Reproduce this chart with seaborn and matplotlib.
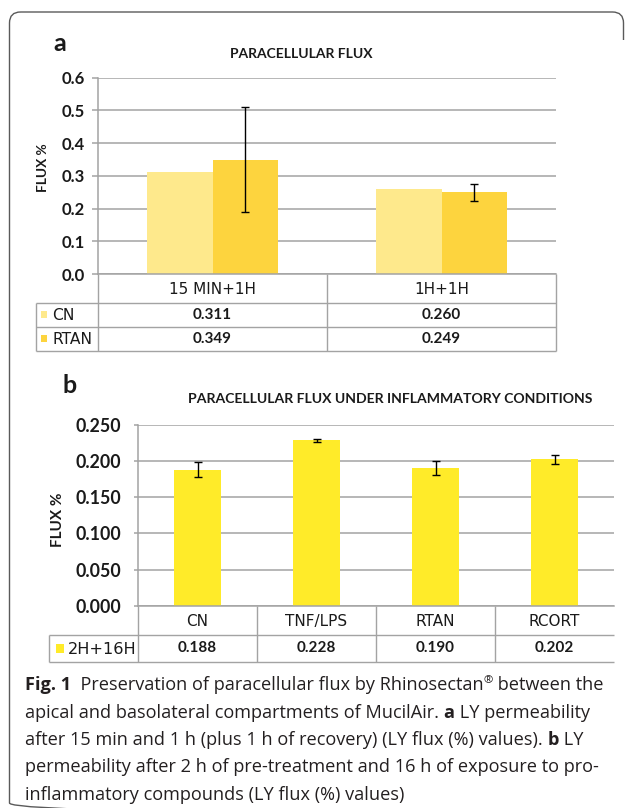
import numpy as np
import pandas as pd
import matplotlib
matplotlib.use("Agg")
import matplotlib.pyplot as plt
import seaborn as sns
from matplotlib.patches import FancyBboxPatch, Rectangle
from matplotlib.path import Path


# panel a - paracellular flux
a_groups = ["15 MIN+1H", "1H+1H"]
a_series = ["CN", "RTAN"]
a_cn = [0.311, 0.260]
a_rtan = [0.349, 0.249]
a_rtan_err = [0.161, 0.025]
a_ticks = [0.0, 0.1, 0.2, 0.3, 0.4, 0.5, 0.6]

# panel b - under inflammatory conditions
b_groups = ["CN", "TNF/LPS", "RTAN", "RCORT"]
b_series = "2H+16H"
b_vals = [0.188, 0.228, 0.190, 0.202]
b_err = [0.011, 0.002, 0.0095, 0.006]
b_ticks = [0.0, 0.05, 0.10, 0.15, 0.20, 0.25]

caption = [
    [("Fig. 1", "bold"), ("  Preservation of paracellular flux by Rhinosectan", "reg"),
     ("®", "sup"), (" between the", "reg")],
    [("apical and basolateral compartments of MucilAir. ", "reg"), ("a", "bold"),
     (" LY permeability", "reg")],
    [("after 15 min and 1 h (plus 1 h of recovery) (LY flux (%) values). ", "reg"),
     ("b", "bold"), (" LY", "reg")],
    [("permeability after 2 h of pre-treatment and 16 h of exposure to pro-", "reg")],
    [("inflammatory compounds (LY flux (%) values)", "reg")],
]

W, H = 629, 808
GRID = "#A3A3A3"
TXT = "#1A1A1A"
c_cn, c_rtan, c_b = "#FEE98C", "#FDD43E", "#FFEB29"


def px(x0, y0, x1, y1):
    return [x0 / W, 1 - y1 / H, (x1 - x0) / W, (y1 - y0) / H]


sns.set_theme(style="white")
plt.rcParams["font.family"] = ["Lato", "DejaVu Sans"]

fig = plt.figure(figsize=(W / 100, H / 100), dpi=100)

# pixel canvas for table, titles, caption
cv = fig.add_axes([0, 0, 1, 1])
cv.set_xlim(0, W)
cv.set_ylim(H, 0)
cv.axis("off")


def hline(y, x0, x1):
    cv.plot([x0, x1], [y, y], color=GRID, lw=1.0, solid_capstyle="butt")


def vline(x, y0, y1):
    cv.plot([x, x], [y0, y1], color=GRID, lw=1.0, solid_capstyle="butt")


def style_axis(ax, ticks, fmt, size, pad, tlen):
    ax.set_yticks(ticks)
    ax.set_yticklabels([fmt.format(t) for t in ticks], fontweight="bold",
                       fontsize=size, color=TXT)
    ax.yaxis.grid(True, color=GRID, lw=1.1)
    ax.set_axisbelow(True)
    for s in ["top", "right"]:
        ax.spines[s].set_visible(False)
    for s in ["left", "bottom"]:
        ax.spines[s].set_color(GRID)
        ax.spines[s].set_linewidth(1.1)
    ax.tick_params(axis="y", length=tlen, width=1.1, color=GRID, pad=pad, left=True)
    ax.tick_params(axis="x", length=0, labelbottom=False)
    ax.set_xlabel("")
    ax.set_ylabel("")


# ---------------- panel a ----------------
a_box = (98, 77.5, 556, 274)
axA = fig.add_axes(px(*a_box))
df_a = pd.DataFrame({
    "group": a_groups * 2,
    "series": [a_series[0]] * 2 + [a_series[1]] * 2,
    "flux": a_cn + a_rtan,
})
sns.barplot(data=df_a, x="group", y="flux", hue="series", palette=[c_cn, c_rtan],
            width=0.57, errorbar=None, saturation=1, legend=False, linewidth=0, ax=axA)
rtan_bars = axA.patches[len(a_groups):2 * len(a_groups)]
axA.errorbar([p.get_x() + p.get_width() / 2 for p in rtan_bars],
             [p.get_height() for p in rtan_bars], yerr=a_rtan_err, fmt="none",
             ecolor="black", elinewidth=1.0, capsize=3, capthick=1.0)
axA.set_xlim(-0.5, len(a_groups) - 0.5)
axA.set_ylim(0, 0.6)
style_axis(axA, a_ticks, "{:.1f}", 12, 5, 4.5)

cv.text(53, 51, "a", fontsize=18, fontweight="bold", va="baseline", color=TXT)
cv.text(301, 54, "PARACELLULAR FLUX", fontsize=10, fontweight="bold",
        ha="center", va="center", color=TXT)
cv.text(43, 168, "FLUX %", rotation=90, fontsize=9.8, fontweight="bold",
        ha="center", va="center", color=TXT)

# table under panel a
x0, y0, x1, y1 = a_box
rows_a = [y1, 302.7, 326.5, 351]
colw = (x1 - x0) / len(a_groups)
edges = [x0 + i * colw for i in range(len(a_groups) + 1)]
for y in rows_a[1:]:
    hline(y, 36, x1)
vline(36, rows_a[1], rows_a[-1])
for x in edges:
    vline(x, y1, rows_a[-1])
for i, g in enumerate(a_groups):
    cx = edges[i] + colw / 2
    cv.text(cx, (rows_a[0] + rows_a[1]) / 2 + 1, g, family="DejaVu Sans", fontsize=11,
            ha="center", va="center", color=TXT)
for j, (name, vals, col) in enumerate(zip(a_series, [a_cn, a_rtan], [c_cn, c_rtan])):
    cy = (rows_a[j + 1] + rows_a[j + 2]) / 2
    cv.add_patch(Rectangle((40.5, cy - 3.5), 6, 6.5, color=col, lw=0))
    cv.text(52.5, cy + 1, name, family="DejaVu Sans", fontsize=11.2,
            ha="left", va="center", color=TXT)
    for i, v in enumerate(vals):
        cv.text(edges[i] + colw / 2, cy, f"{v:.3f}", fontsize=11, fontweight="bold",
                ha="center", va="center", color=TXT)

# ---------------- panel b ----------------
b_box = (138, 424.5, 614, 606)
axB = fig.add_axes(px(*b_box))
sns.barplot(x=b_groups, y=b_vals, color=c_b, width=0.4, errorbar=None,
            saturation=1, linewidth=0, ax=axB)
axB.errorbar([p.get_x() + p.get_width() / 2 for p in axB.patches],
             [p.get_height() for p in axB.patches], yerr=b_err, fmt="none",
             ecolor="black", elinewidth=1.0, capsize=3, capthick=1.0)
axB.set_xlim(-0.5, len(b_groups) - 0.5)
axB.set_ylim(0, 0.25)
style_axis(axB, b_ticks, "{:.3f}", 12.8, 9, 3)

cv.text(62, 393, "b", fontsize=18, fontweight="bold", va="baseline", color=TXT)
cv.text(390, 399, "PARACELLULAR FLUX UNDER INFLAMMATORY CONDITIONS", fontsize=10.1,
        fontweight="bold", ha="center", va="center", color=TXT)
cv.text(58, 520, "FLUX %", rotation=90, fontsize=11, fontweight="bold",
        ha="center", va="center", color=TXT)

x0, y0, x1, y1 = b_box
rows_b = [y1, 635, 662]
colw = (x1 - x0) / len(b_groups)
edges = [x0 + i * colw for i in range(len(b_groups) + 1)]
for y in rows_b[1:]:
    hline(y, 49, x1)
vline(49, rows_b[1], rows_b[2])
for x in edges[:-1]:
    vline(x, y1, rows_b[-1])
for i, g in enumerate(b_groups):
    cv.text(edges[i] + colw / 2, (rows_b[0] + rows_b[1]) / 2 + 1, g, family="DejaVu Sans",
            fontsize=11, ha="center", va="center", color=TXT)
cy = (rows_b[1] + rows_b[2]) / 2
cv.add_patch(Rectangle((56, cy - 4.5), 8, 8.5, color=c_b, lw=0))
cv.text(67.5, cy + 1, b_series, family="DejaVu Sans", fontsize=11.6,
        ha="left", va="center", color=TXT)
for i, v in enumerate(b_vals):
    cv.text(edges[i] + colw / 2, cy, f"{v:.3f}", fontsize=11, fontweight="bold",
            ha="center", va="center", color=TXT)

# ---------------- caption ----------------
r = fig.canvas.get_renderer()
cap_font = ["Open Sans", "DejaVu Sans"]
cap_size = 13.1
cap_col = "#231F20"


def text_width(s, **kw):
    t = cv.text(0, 0, "|" + s + "|", **kw)
    t2 = cv.text(0, 0, "||", **kw)
    w = t.get_window_extent(renderer=r).width - t2.get_window_extent(renderer=r).width
    t.remove()
    t2.remove()
    return w


for k, line in enumerate(caption):
    x = 25
    y = 690.5 + k * 27.3
    for s, kind in line:
        kw = dict(family=cap_font, color=cap_col,
                  fontsize=cap_size * (0.62 if kind == "sup" else 1),
                  fontweight="bold" if kind == "bold" else "normal")
        cv.text(x, y - (7 if kind == "sup" else 0), s, va="baseline", ha="left", **kw)
        x += text_width(s, **kw)

# rounded frame, clipped so only the left side, top and top-right corner show
frame = FancyBboxPatch((9.5, 12), 614, 802, boxstyle="round,pad=0,rounding_size=11",
                       fill=False, ec="#5A5A5A", lw=1.0)
cv.add_patch(frame)
clip = Path([(0, 0), (W, 0), (W, 40), (600, 40), (600, H), (0, H), (0, 0)])
frame.set_clip_path(clip, cv.transData)

fig.savefig("out.png", dpi=100)
